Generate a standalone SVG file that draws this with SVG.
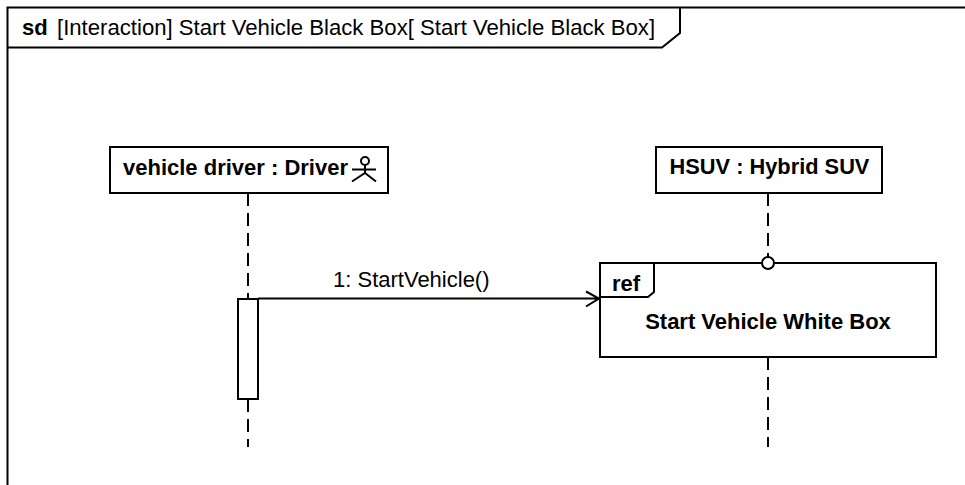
<svg xmlns="http://www.w3.org/2000/svg" width="965" height="485" viewBox="0 0 965 485">
<style>
text{font-family:"Liberation Sans",Arial,sans-serif;font-size:22px;fill:#000}
.b{font-weight:bold}
.s{fill:#fff;stroke:#000;stroke-width:2}
.n{fill:none;stroke:#000;stroke-width:2}
.ll{fill:none;stroke:#000;stroke-width:2;stroke-dasharray:13 7}
</style>
<rect width="965" height="485" fill="#fff"/>
<g id="frame">
<path class="n" d="M7.500 485V7.500H965M7.500 47.500H662L680 33V7.500"/>
<text x="22" y="35" class="b">sd</text>
<text x="57" y="35" style="font-size:22.150px">[Interaction] Start Vehicle Black Box[ Start Vehicle Black Box]</text>
</g>
<g id="connectors">
<path class="ll" d="M248 193V299"/>
<path class="ll" d="M248 399V447"/>
<path class="ll" d="M768 193V258"/>
<path class="ll" d="M768 357V447"/>
<path class="n" d="M258 298.500H599M586 291.500L599 298.500L586 306.500"/>
<text x="333" y="287">1: StartVehicle()</text>
</g>
<g id="driver">
<rect class="s" x="110" y="147" width="278" height="46"/>
<text x="123" y="175" class="b">vehicle driver : Driver</text>
<circle class="n" cx="365" cy="161" r="4"/>
<path class="n" d="M365 165V173M352 169.500H376M352 181.500L365 173L376 181.500"/>
</g>
<g id="hsuv">
<rect class="s" x="656" y="147" width="226" height="46"/>
<text x="769.500" y="174" class="b" text-anchor="middle" style="font-size:21.800px">HSUV : Hybrid SUV</text>
</g>
<g id="activation">
<rect class="s" x="238" y="299" width="20" height="100"/>
</g>
<g id="ref">
<rect class="s" x="600" y="263" width="336" height="94"/>
<path class="n" d="M600 297H648L654 292V263"/>
<text x="612" y="291" class="b">ref</text>
<text x="768" y="329" class="b" text-anchor="middle">Start Vehicle White Box</text>
<circle class="s" cx="768" cy="263" r="6"/>
</g>
</svg>
